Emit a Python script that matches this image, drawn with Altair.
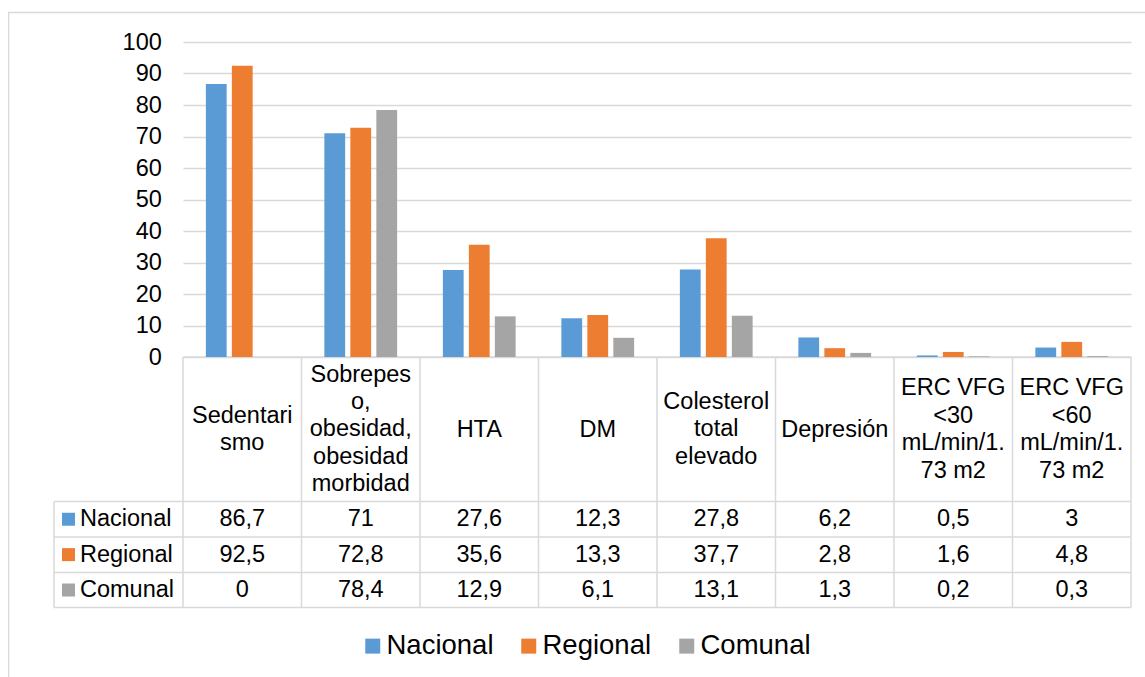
import altair as alt
import pandas as pd

# Categories, table headers and series values
categories = [
    "Sedentarismo",
    "Sobrepeso, obesidad, obesidad morbidad",
    "HTA",
    "DM",
    "Colesterol total elevado",
    "Depresión",
    "ERC VFG <30 mL/min/1.73 m2",
    "ERC VFG <60 mL/min/1.73 m2",
]
header_lines = [
    "Sedentari\nsmo",
    "Sobrepes\no,\nobesidad,\nobesidad\nmorbidad",
    "HTA",
    "DM",
    "Colesterol\ntotal\nelevado",
    "Depresión",
    "ERC VFG\n<30\nmL/min/1.\n73 m2",
    "ERC VFG\n<60\nmL/min/1.\n73 m2",
]
series = ["Nacional", "Regional", "Comunal"]
nacional = [86.7, 71, 27.6, 12.3, 27.8, 6.2, 0.5, 3]
regional = [92.5, 72.8, 35.6, 13.3, 37.7, 2.8, 1.6, 4.8]
comunal = [0, 78.4, 12.9, 6.1, 13.1, 1.3, 0.2, 0.3]
colors = ["#5B9BD5", "#ED7D31", "#A5A5A5"]
y_ticks = list(range(0, 101, 10))


def fmt(v):
    return f"{v:g}".replace(".", ",")


rows = []
for name, vals in zip(series, [nacional, regional, comunal]):
    for cat, v in zip(categories, vals):
        rows.append({"categoria": cat, "serie": name, "valor": v, "etiqueta": fmt(v)})
df = pd.DataFrame(rows)
df_head = pd.DataFrame({"categoria": categories, "encabezado": header_lines})
df_series = pd.DataFrame({"serie": series})
df_bounds = pd.DataFrame({"limite": list(range(len(categories) + 1))})
df_one = pd.DataFrame({"k": [0]})

# Layout constants (pixels, relative to the plot origin)
W, H = 948, 315
FONT = "Liberation Sans"
GRID = "#d9d9d9"
TXT = "#000000"
FS = 23.5
LH = 27.4
HEADER_Y = 387.5
ROW_Y = [477.25, 548]
TABLE_LEFT = -129
TABLE_BOTTOM = 565.5
ROW_LINES = [459.5, 495, 530.5, 565.5]

x_band = alt.Scale(domain=categories, paddingInner=0.342, paddingOuter=0.171)
color_scale = alt.Scale(domain=series, range=colors)
row_scale = alt.Scale(type="point", domain=series, range=ROW_Y, padding=0)

bars = alt.Chart(df).mark_bar().encode(
    x=alt.X("categoria:N", scale=x_band, axis=None),
    xOffset=alt.XOffset(
        "serie:N", scale=alt.Scale(domain=series, paddingInner=0.2, paddingOuter=0.1)
    ),
    y=alt.Y(
        "valor:Q",
        scale=alt.Scale(domain=[0, 100], nice=False),
        axis=alt.Axis(
            values=y_ticks,
            grid=True,
            gridColor=GRID,
            gridWidth=1.3,
            domain=False,
            ticks=False,
            tickSize=0,
            labelPadding=21.7,
            labelFontSize=FS,
            labelFont=FONT,
            labelColor=TXT,
            title=None,
        ),
    ),
    color=alt.Color(
        "serie:N",
        scale=color_scale,
        legend=alt.Legend(
            title=None,
            orient="none",
            legendX=176,
            legendY=590,
            direction="horizontal",
            symbolType="square",
            symbolSize=225,
            symbolStrokeWidth=0,
            labelFontSize=27.5,
            labelFont=FONT,
            labelColor=TXT,
            labelOffset=0,
            columnPadding=21,
            padding=0,
            labelLimit=0,
        ),
    ),
)

# Multi-line headers are centred vertically in the header row
headers = alt.Chart(df_head).transform_calculate(
    ypos=f"{HEADER_Y} - (length(split(datum.encabezado, '\\n')) - 1) * {LH / 2}"
).mark_text(
    font=FONT, fontSize=FS, color=TXT, lineBreak="\n", lineHeight=LH,
    align="center", baseline="middle",
).encode(
    x=alt.X("categoria:N", scale=x_band, axis=None),
    y=alt.Y("ypos:Q", scale=None, axis=None),
    text="encabezado:N",
)

values = alt.Chart(df).mark_text(
    font=FONT, fontSize=FS, color=TXT, align="center", baseline="middle"
).encode(
    x=alt.X("categoria:N", scale=x_band, axis=None),
    y=alt.Y("serie:N", scale=row_scale, axis=None),
    text="etiqueta:N",
)

row_labels = alt.Chart(df_series).mark_text(
    font=FONT, fontSize=FS, color=TXT, align="left", baseline="middle"
).encode(
    x=alt.value(-103),
    y=alt.Y("serie:N", scale=row_scale, axis=None),
    text="serie:N",
)

row_keys = alt.Chart(df_series).mark_square(size=169, opacity=1).encode(
    x=alt.value(-114.5),
    y=alt.Y("serie:N", scale=row_scale, axis=None),
    fill=alt.Fill("serie:N", scale=color_scale, legend=None),
)

# Table grid: column boundaries follow the category count
col_lines = alt.Chart(df_bounds).mark_rule(color=GRID, strokeWidth=1.5).encode(
    x=alt.X("limite:Q", scale=alt.Scale(domain=[0, len(categories)], nice=False), axis=None),
    y=alt.value(H),
    y2=alt.value(TABLE_BOTTOM),
)

grid_layers = [
    alt.Chart(df_one).mark_rule(color=GRID, strokeWidth=1.5).encode(
        x=alt.value(0), x2=alt.value(W), y=alt.value(H)
    ),
    alt.Chart(df_one).mark_rule(color=GRID, strokeWidth=1.5).encode(
        x=alt.value(TABLE_LEFT), y=alt.value(ROW_LINES[0]), y2=alt.value(TABLE_BOTTOM)
    ),
]
for yy in ROW_LINES:
    grid_layers.append(
        alt.Chart(df_one).mark_rule(color=GRID, strokeWidth=1.5).encode(
            x=alt.value(TABLE_LEFT), x2=alt.value(W), y=alt.value(yy)
        )
    )

frame = alt.Chart(df_one).mark_rect(fillOpacity=0, stroke=GRID, strokeWidth=1.3).encode(
    x=alt.value(-174.3), x2=alt.value(1100), y=alt.value(-29.5), y2=alt.value(700)
)

chart = (
    alt.layer(frame, *grid_layers, col_lines, bars, headers, values, row_keys, row_labels)
    .resolve_scale(x="independent", y="independent")
    .properties(
        width=W,
        height=H,
        autosize=alt.AutoSizeParams(type="none"),
        padding={"left": 183, "top": 42, "right": 14, "bottom": 320},
        background="white",
    )
    .configure_view(strokeWidth=0)
)

chart.save("out.html", embed_options={"renderer": "svg", "actions": False})
